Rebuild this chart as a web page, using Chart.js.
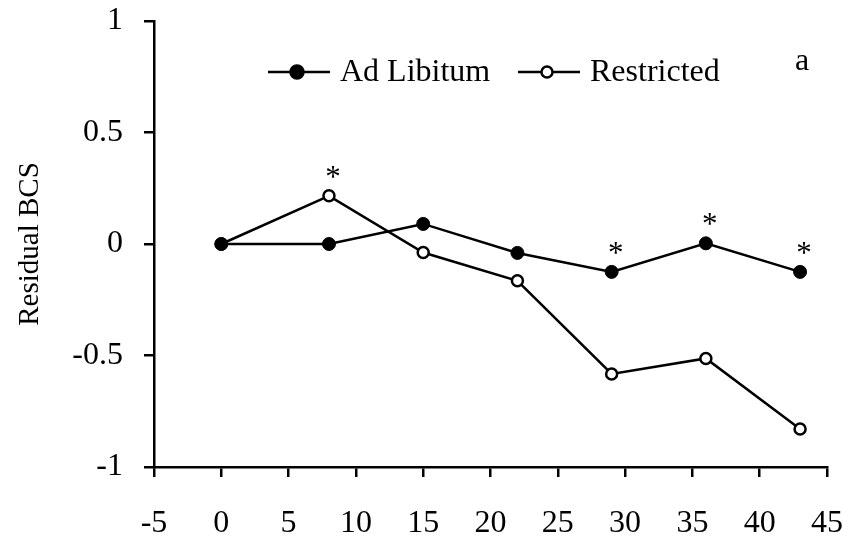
<!DOCTYPE html>
<html lang="en">
<head>
    <meta charset="UTF-8">
    <title>Residual BCS</title>
    <style>
        html, body { margin: 0; padding: 0; background: #fff; }
        #wrap { width: 843px; height: 541px; }
    </style>
</head>
<body>
    <div id="wrap"><canvas id="bcsChart" width="843" height="541"></canvas></div>

    <script src="https://cdn.jsdelivr.net/npm/chart.js"></script>
    <script>
        // Dados
        const days = [0, 8, 15, 22, 29, 36, 43];
        const adLibitum = [0, 0, 0.09, -0.04, -0.125, 0.003, -0.125];
        const restricted = [0, 0.216, -0.038, -0.165, -0.583, -0.513, -0.83];
        // marcas de significância por ponto
        const adLibitumSig = ['', '', '', '', '*', '*', '*'];
        const restrictedSig = ['', '*', '', '', '', '', ''];

        const serif = "'Liberation Serif', 'Times New Roman', serif";

        function toPoints(ys) {
            return days.map((d, i) => ({ x: d, y: ys[i] }));
        }

        // legenda, asteriscos e letra do painel
        const extras = {
            id: 'extras',
            afterDatasetsDraw(chart) {
                const ctx = chart.ctx;
                const xs = chart.scales.x, ys = chart.scales.y;
                ctx.save();
                ctx.fillStyle = '#000';
                ctx.font = '31px ' + serif;
                ctx.textAlign = 'center';
                ctx.textBaseline = 'alphabetic';
                [[adLibitum, adLibitumSig], [restricted, restrictedSig]].forEach(([vals, sig]) => {
                    sig.forEach((s, i) => {
                        if (!s) return;
                        ctx.fillText(s, xs.getPixelForValue(days[i]) + 4, ys.getPixelForValue(vals[i]) - 9);
                    });
                });

                // legenda
                const items = [
                    { label: 'Ad Libitum', x0: 268, fill: '#000', r: 6.5 },
                    { label: 'Restricted', x0: 518, fill: '#fff', r: 5.5 }
                ];
                const ly = 72;
                items.forEach(it => {
                    ctx.strokeStyle = '#000';
                    ctx.lineWidth = 2.5;
                    ctx.beginPath();
                    ctx.moveTo(it.x0, ly);
                    ctx.lineTo(it.x0 + 62, ly);
                    ctx.stroke();
                    ctx.beginPath();
                    ctx.arc(it.x0 + 29, ly, it.r, 0, Math.PI * 2);
                    ctx.fillStyle = it.fill;
                    ctx.fill();
                    ctx.stroke();
                    ctx.fillStyle = '#000';
                    ctx.font = '32px ' + serif;
                    ctx.textAlign = 'left';
                    ctx.textBaseline = 'middle';
                    ctx.fillText(it.label, it.x0 + 72, ly + 1);
                });

                ctx.font = '32px ' + serif;
                ctx.textAlign = 'center';
                ctx.textBaseline = 'alphabetic';
                ctx.fillText('a', 802, 70);
                ctx.restore();
            }
        };

        new Chart(document.getElementById('bcsChart'), {
            type: 'scatter',
            data: {
                datasets: [{
                    label: 'Ad Libitum',
                    data: toPoints(adLibitum),
                    showLine: true,
                    borderColor: '#000',
                    borderWidth: 2.5,
                    pointRadius: 6.5,
                    pointBackgroundColor: '#000',
                    pointBorderColor: '#000',
                    pointBorderWidth: 1
                }, {
                    label: 'Restricted',
                    data: toPoints(restricted),
                    showLine: true,
                    borderColor: '#000',
                    borderWidth: 2.5,
                    pointRadius: 5.5,
                    pointBackgroundColor: '#fff',
                    pointBorderColor: '#000',
                    pointBorderWidth: 2.5
                }]
            },
            options: {
                responsive: false,
                animation: false,
                layout: { padding: { top: 21, right: 16, left: 0, bottom: 0 } },
                plugins: {
                    legend: { display: false },
                    tooltip: { enabled: false }
                },
                scales: {
                    x: {
                        type: 'linear',
                        min: -5,
                        max: 45,
                        ticks: { stepSize: 5, color: '#000', font: { family: serif, size: 32 }, padding: 27, maxRotation: 0 },
                        grid: { drawOnChartArea: false, color: '#000', lineWidth: 2.5, tickLength: 10 },
                        border: { color: '#000', width: 2.5 },
                        afterFit(scale) {
                            scale.height = 74;
                            scale.paddingLeft = 0;
                            scale.paddingRight = 0;
                        }
                    },
                    y: {
                        min: -1,
                        max: 1,
                        ticks: {
                            stepSize: 0.5, color: '#000', font: { family: serif, size: 32 }, padding: 21,
                            callback: v => String(v)
                        },
                        grid: { drawOnChartArea: false, color: '#000', lineWidth: 2.5, tickLength: 10 },
                        border: { color: '#000', width: 2.5 },
                        title: { display: true, text: 'Residual BCS', color: '#000', font: { family: serif, size: 29 }, padding: { top: 13, bottom: 0 } },
                        afterFit(scale) {
                            scale.width = 154;
                            scale.paddingTop = 0;
                            scale.paddingBottom = 0;
                        }
                    }
                }
            },
            plugins: [extras]
        });
    </script>
</body>
</html>
